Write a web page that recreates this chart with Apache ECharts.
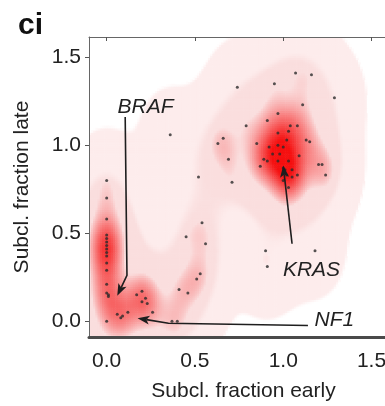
<!DOCTYPE html>
<html><head><meta charset="utf-8">
<script src="https://cdn.jsdelivr.net/npm/echarts@6/dist/echarts.min.js"></script>
<style>html,body{margin:0;padding:0;background:#fff}#c{width:385px;height:406px}</style>
</head><body><div id="c"></div>
<script>
// ---- data ----
const subclEarly = [
  0.36,0.74,0.95,1.07,1.16,1.29,1.11,0.97,0.91,0.79,1.04,1.08,1.03,0.97,0.66,0.63,0.85,0.92,0.97,1.00,
  1.02,1.13,1.15,0.94,0.98,0.89,0.91,0.97,1.03,1.09,0.69,0.87,1.00,1.01,1.05,1.08,1.05,1.02,1.00,1.03,
  1.20,1.22,1.24,0.52,0.71,0.90,0.91,1.18,
  0.41,0.46,0.51,0.53,0.45,0.54,0.56,0.37,0.40,
  0.00,0.00,0.00,0.00,0.00,0.00,0.00,0.00,0.00,0.00,0.00,0.00,0.00,0.00,0.00,0.01,0.01,
  0.06,0.08,0.09,0.12,0.17,0.20,0.22,0.23,0.20,0.26
];
const subclLate = [
  1.06,1.33,1.35,1.41,1.40,1.27,1.23,1.18,1.14,1.11,1.11,1.11,1.08,1.07,1.04,1.01,1.01,0.99,1.00,0.99,
  1.03,1.03,1.02,0.95,0.95,0.92,0.91,0.91,0.91,0.94,0.92,0.88,0.87,0.86,0.86,0.83,0.82,0.83,0.80,0.76,
  0.89,0.89,0.83,0.82,0.79,0.40,0.31,0.40,
  0.18,0.16,0.24,0.27,0.48,0.56,0.44,0.00,0.00,
  0.80,0.70,0.58,0.49,0.47,0.45,0.43,0.41,0.39,0.37,0.33,0.29,0.21,0.16,0.00,0.14,0.15,
  0.04,0.02,0.03,0.05,0.15,0.17,0.13,0.10,0.11,0.05
];
const tickValues = [0, 0.5, 1.0, 1.5];
const tickLabels = ['0.0', '0.5', '1.0', '1.5'];
const xName = 'Subcl. fraction early';
const yName = 'Subcl. fraction late';
const panelLabel = 'ci';
const geneNames = ['BRAF', 'KRAS', 'NF1'];
const geneLabelX = [0.22, 1.16, 1.29];
const geneLabelY = [1.215, 0.29, 0.006];
const arrowBRAF = [[0.105, 1.16], [0.115, 0.26], [0.06, 0.145]];
const arrowKRAS = [[1.05, 0.44], [1.0, 0.885]];
const arrowNF1 = [[1.14, -0.025], [0.35, -0.012], [0.175, 0.017]];

// ---- axis ranges ----
const xMin = -0.1, xMax = 1.65, yMin = -0.09, yMax = 1.615;

// ---- smoothed density of the points (drawn as background cells) ----
const step = 0.0125;
const nx = Math.ceil((xMax - xMin) / step), ny = Math.ceil((yMax - yMin) / step);
function kde(hx, hy) {
  const out = new Float64Array(nx * ny);
  let mx = 0;
  for (let j = 0; j < ny; j++) {
    const cy = yMin + (j + 0.5) * step;
    for (let i = 0; i < nx; i++) {
      const cx = xMin + (i + 0.5) * step;
      let s = 0;
      for (let k = 0; k < subclEarly.length; k++) {
        const dx = cx - subclEarly[k], dy = cy - subclLate[k];
        s += Math.exp(-(dx * dx) / (2 * hx * hx) - (dy * dy) / (2 * hy * hy));
      }
      out[j * nx + i] = s;
      if (s > mx) mx = s;
    }
  }
  for (let q = 0; q < out.length; q++) out[q] /= mx;
  return out;
}
const wide = kde(0.11, 0.17), narrow = kde(0.06, 0.095);
const level1 = [253, 236, 236], level2 = [250, 222, 222], red = [245, 16, 16];
function smooth(a, b, v) { const t = Math.max(0, Math.min(1, (v - a) / (b - a))); return t * t * (3 - 2 * t); }
const cells = [], cellColors = [];
for (let j = 0; j < ny; j++) {
  for (let i = 0; i < nx; i++) {
    const w = wide[j * nx + i], n = narrow[j * nx + i];
    const a1 = smooth(0.012, 0.016, w);
    const a2 = smooth(0.10, 0.15, w);
    let f = Math.max(0, Math.min(1, (n - 0.15) / 0.7));
    f = Math.pow(f, 0.75);
    if (a1 <= 0 && f <= 0) continue;
    let c = [255, 255, 255].map((b, z) => b + (level1[z] - b) * a1);
    c = c.map((b, z) => b + (level2[z] - b) * a2);
    c = c.map((b, z) => Math.round(b + (red[z] - b) * f));
    cells.push([xMin + i * step, yMin + j * step]);
    cellColors.push('rgb(' + c.join(',') + ')');
  }
}

const font = '"Liberation Sans", Arial, sans-serif';
const arrows = [arrowBRAF, arrowKRAS, arrowNF1];
const chart = echarts.init(document.getElementById('c'), null, {renderer: 'canvas'});
chart.setOption({
  animation: false,
  backgroundColor: '#fff',
  title: {text: panelLabel, left: 13, top: 6, textStyle: {fontSize: 30, fontWeight: 'bold', color: '#111', fontFamily: font}},
  grid: {left: 89, top: 37, width: 309, height: 300, outerBoundsMode: 'none', containLabel: false},
  xAxis: [{
    type: 'value', min: xMin, max: xMax, position: 'bottom', z: 10,
    axisLine: {show: true, onZero: false, lineStyle: {color: '#4a4a4a', width: 3}},
    axisTick: {show: false},
    splitLine: {show: false},
    axisLabel: {customValues: tickValues, formatter: v => tickLabels[tickValues.indexOf(v)] ?? v.toFixed(1),
      fontSize: 21, color: '#222', margin: 14, fontFamily: font},
    name: xName, nameLocation: 'middle', nameGap: 44,
    nameTextStyle: {fontSize: 21, color: '#222', fontFamily: font}
  }, {
    type: 'value', min: xMin, max: xMax, position: 'top', z: 10,
    axisLine: {show: true, onZero: false, lineStyle: {color: '#666', width: 1}},
    axisTick: {show: true, inside: true, length: 4, customValues: tickValues, lineStyle: {color: '#555'}},
    axisLabel: {show: false}, splitLine: {show: false}
  }],
  yAxis: {
    type: 'value', min: yMin, max: yMax, z: 10,
    axisLine: {show: true, onZero: false, lineStyle: {color: '#666', width: 1}},
    axisTick: {show: true, length: 4, customValues: tickValues, lineStyle: {color: '#555'}},
    splitLine: {show: false},
    axisLabel: {customValues: tickValues, formatter: v => tickLabels[tickValues.indexOf(v)] ?? v.toFixed(1),
      fontSize: 21, color: '#222', margin: 8, fontFamily: font},
    name: yName, nameLocation: 'middle', nameGap: 56, nameRotate: 90,
    nameTextStyle: {fontSize: 21, color: '#222', fontFamily: font}
  },
  series: [{
    type: 'custom', clip: true, silent: true, progressive: 0, z: 1,
    data: cells,
    renderItem: (params, api) => {
      const x0 = api.value(0), y0 = api.value(1);
      const p0 = api.coord([x0, y0]), p1 = api.coord([x0 + step, y0 + step]);
      return {type: 'rect', shape: {x: p0[0] - 0.3, y: p1[1] - 0.3, width: p1[0] - p0[0] + 0.6, height: p0[1] - p1[1] + 0.6},
        style: {fill: cellColors[params.dataIndex]}};
    }
  }, {
    type: 'scatter', z: 3, silent: true,
    data: subclEarly.map((x, k) => [x, subclLate[k]]),
    symbol: 'circle', symbolSize: 3, itemStyle: {color: '#2b2b2b'}
  }, {
    type: 'custom', z: 4, silent: true, clip: false,
    data: arrows.map((a, k) => [a[a.length - 1][0], a[a.length - 1][1]]),
    renderItem: (params, api) => {
      const pts = arrows[params.dataIndex].map(p => api.coord(p));
      const tip = pts[pts.length - 1], prev = pts[pts.length - 2];
      const dx = tip[0] - prev[0], dy = tip[1] - prev[1], L = Math.hypot(dx, dy);
      const ux = dx / L, uy = dy / L, px = -uy, py = ux;
      const len = 12, hw = 4.5;
      const base = [tip[0] - ux * len, tip[1] - uy * len];
      const notch = [tip[0] - ux * len * 0.75, tip[1] - uy * len * 0.75];
      const shaft = pts.slice(0, -1).concat([notch]);
      return {type: 'group', children: [
        {type: 'polyline', shape: {points: shaft}, style: {stroke: '#1e1e1e', lineWidth: 1.6, fill: null}},
        {type: 'polygon', shape: {points: [tip, [base[0] + px * hw, base[1] + py * hw], notch, [base[0] - px * hw, base[1] - py * hw]]},
          style: {fill: '#1e1e1e'}}
      ]};
    }
  }, {
    type: 'custom', z: 5, silent: true, clip: false,
    data: geneNames.map((g, k) => [geneLabelX[k], geneLabelY[k]]),
    renderItem: (params, api) => {
      const p = api.coord([api.value(0), api.value(1)]);
      return {type: 'text', x: p[0], y: p[1], style: {text: geneNames[params.dataIndex], fill: '#222',
        font: 'italic 21px ' + font, align: 'center', verticalAlign: 'middle', textAlign: 'center', textVerticalAlign: 'middle'}};
    }
  }]
});
</script></body></html>
